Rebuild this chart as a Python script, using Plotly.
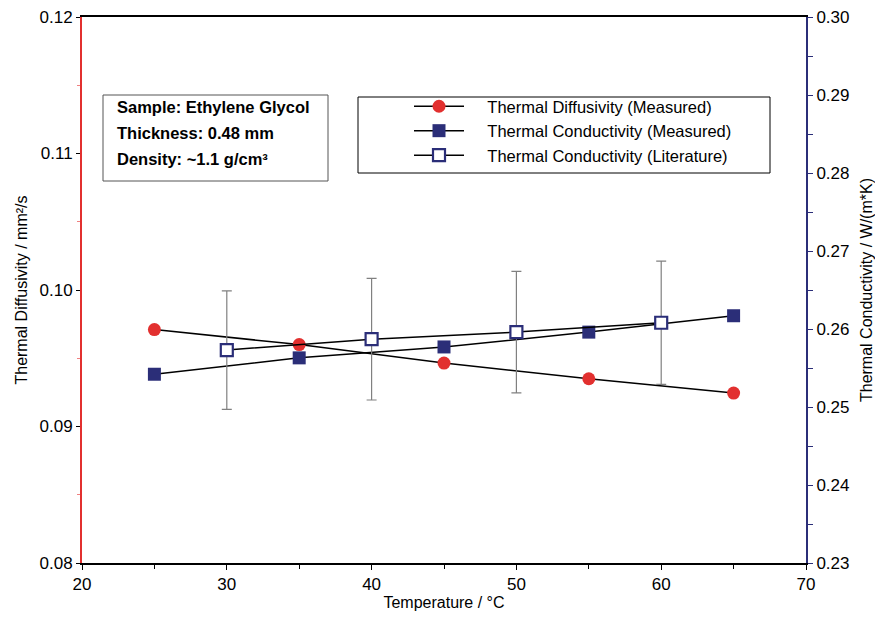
import plotly.graph_objects as go

# ---- data ----
temp_meas = [25, 35, 45, 55, 65]
diffusivity = [0.0971, 0.0960, 0.09465, 0.0935, 0.09245]
cond_meas = [0.2542, 0.2563, 0.2577, 0.2596, 0.2617]
temp_lit = [30, 40, 50, 60]
cond_lit = [0.2573, 0.2587, 0.2596, 0.2608]
cond_lit_err = [0.0076, 0.0078, 0.0078, 0.0079]

series_names = ["Thermal Diffusivity (Measured)",
                "Thermal Conductivity (Measured)",
                "Thermal Conductivity (Literature)"]
info_lines = ["Sample: Ethylene Glycol", "Thickness: 0.48 mm", "Density: ~1.1 g/cm³"]

RED = "#e2302f"
NAVY = "#2b2e78"
FONT = "Liberation Sans, Arial, sans-serif"

# page body has an 8px margin on every side; keep the figure inside the window
OFF = 8
W, H = 883 - 2 * OFF, 619 - 2 * OFF
# plot area in reference (page px): x 82..806, y 17..563
L, T = 82 - OFF, 17 - OFF
R = (OFF + W) - 806
B = (OFF + H) - 563
PW, PH = 806 - 82, 563 - 17


def px(xp):
    return (xp - 82) / PW


def py(yp):
    return (563 - yp) / PH


pad = "\u00a0\u00a0\u00a0\u00a0"

fig = go.Figure()

fig.add_trace(go.Scatter(
    x=temp_meas, y=diffusivity, name=pad + series_names[0], mode="lines+markers",
    line=dict(color="black", width=1.5),
    marker=dict(symbol="circle", size=13, color=RED, line=dict(width=0)),
    yaxis="y"))

fig.add_trace(go.Scatter(
    x=temp_meas, y=cond_meas, name=pad + series_names[1], mode="lines+markers",
    line=dict(color="black", width=1.5),
    marker=dict(symbol="square", size=13, color=NAVY, line=dict(width=0)),
    yaxis="y2"))

fig.add_trace(go.Scatter(
    x=temp_lit, y=cond_lit, name=pad + series_names[2], mode="lines+markers",
    line=dict(color="black", width=1.5),
    marker=dict(symbol="square", size=12, color="white", line=dict(color=NAVY, width=2.2)),
    error_y=dict(type="data", array=cond_lit_err, visible=True, color="#808080",
                 thickness=1.2, width=5),
    yaxis="y2"))

fig.update_layout(
    width=W, height=H,
    margin=dict(l=L, r=R, t=T, b=B, autoexpand=False),
    paper_bgcolor="white", plot_bgcolor="white",
    font=dict(family=FONT, size=17, color="black"),
    showlegend=True,
    legend=dict(x=px(409), y=py(89), xanchor="left", yanchor="top",
                bgcolor="rgba(0,0,0,0)", borderwidth=0,
                font=dict(family=FONT, size=16.5, color="black"),
                itemwidth=50, tracegroupgap=0),
    xaxis=dict(range=[20, 70], dtick=10, tick0=20, showgrid=False, zeroline=False,
               showline=True, linecolor="black", linewidth=1.5, mirror=True,
               automargin=False, ticklabeloverflow="allow",
               ticks="outside", ticklen=5, tickcolor="black",
               minor=dict(dtick=5, ticks="outside", ticklen=4, tickcolor="black"),
               title=dict(text="Temperature / °C", font=dict(size=16), standoff=12),
               tickfont=dict(size=17)),
    yaxis=dict(range=[0.08, 0.12], dtick=0.01, tick0=0.08, tickformat=".2f",
               showgrid=False, zeroline=False, automargin=False, ticklabeloverflow="allow",
               showline=True, linecolor=RED, linewidth=2,
               ticks="outside", ticklen=4, tickcolor="black",
               minor=dict(dtick=0.005, ticks="outside", ticklen=3, tickcolor="#f08080"),
               title=dict(text="Thermal Diffusivity / mm²/s", font=dict(size=16), standoff=8),
               tickfont=dict(size=17)),
    yaxis2=dict(range=[0.23, 0.30], dtick=0.01, tick0=0.23, tickformat=".2f",
                overlaying="y", side="right", showgrid=False, zeroline=False,
                automargin=False, ticklabeloverflow="allow",
                showline=True, linecolor=NAVY, linewidth=2,
                ticks="outside", ticklen=5, tickcolor=NAVY,
                minor=dict(dtick=0.005, ticks="outside", ticklen=5, tickcolor=NAVY),
                title=dict(text="Thermal Conductivity / W/(m*K)", font=dict(size=16), standoff=16),
                tickfont=dict(size=17)),
)

# legend frame
fig.add_shape(type="rect", xref="paper", yref="paper",
              x0=px(358), x1=px(770), y0=py(173), y1=py(97),
              line=dict(color="black", width=1), fillcolor="rgba(0,0,0,0)", layer="below")

# info box
fig.add_shape(type="rect", xref="paper", yref="paper",
              x0=px(103), x1=px(328), y0=py(181), y1=py(95),
              line=dict(color="#555555", width=1), fillcolor="white", layer="below")
for i, txt in enumerate(info_lines):
    ypix = 107 + i * 26
    fig.add_annotation(xref="paper", yref="paper", x=px(115),
                       y=py(ypix), xanchor="left", yanchor="middle",
                       text="<b>" + txt + "</b>", showarrow=False,
                       font=dict(family=FONT, size=16.5, color="black"))

fig.write_html("out.html")
